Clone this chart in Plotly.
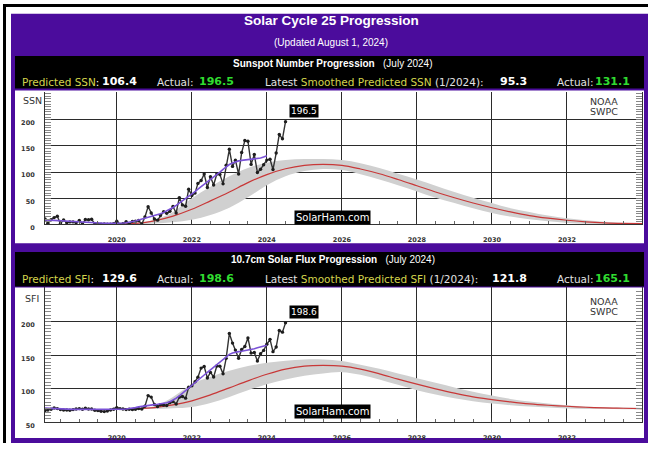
import pandas as pd
import plotly.graph_objects as go

W, H = 648, 450

# ---------------- data ----------------
# monthly values, starting February 2018
ssn_monthly = [10.7, 2.5, 8.9, 13.1, 15.6, 1.6, 8.7, 3.3, 4.9, 4.9, 3.1,
               7.7, 0.8, 9.4, 9.1, 9.9, 1.2, 0.9, 0.5, 1.1, 0.4, 0.5, 1.5,
               6.2, 0.2, 1.5, 5.2, 0.2, 5.8, 6.1, 7.5, 0.6, 14.4, 34.0, 21.8,
               10.4, 8.2, 17.2, 24.5, 21.2, 25.0, 34.3, 22.0, 51.3, 37.4, 34.8, 67.5,
               55.3, 59.9, 78.5, 84.1, 96.5, 70.5, 91.4, 75.4, 96.3, 95.4, 77.6, 113.1,
               143.6, 110.9, 122.8, 96.4, 137.4, 160.5, 159.1, 114.8, 133.6, 99.4, 105.4, 114.2,
               123.0, 124.7, 104.9, 136.5, 172.0, 163.7, 196.5]
ssn_smoothed = [8.8, 8.4, 8.0, 7.6, 7.2, 6.8, 6.4, 6.1, 5.8, 5.5, 5.2,
                4.9, 4.6, 4.3, 4.0, 3.6, 3.2, 2.8, 2.5, 2.2, 2.0, 1.9, 1.8,
                2.0, 2.3, 2.7, 3.2, 4.0, 5.2, 6.7, 8.4, 10.1, 11.7, 13.3, 14.9,
                16.4, 18.2, 20.5, 23.0, 25.8, 28.9, 32.5, 36.5, 40.7, 45.1, 49.6, 54.0,
                58.2, 62.8, 67.4, 71.9, 76.5, 81.0, 85.6, 90.1, 95.1, 100.0, 105.3, 110.2,
                114.5, 117.5, 120.0, 121.5, 122.5, 123.2, 123.8, 124.3, 124.8, 125.5, 127.0, 129.0,
                131.1]
sfi_monthly = [67.5, 68.5, 69.5, 71.5, 70.5, 69.0, 68.5, 68.5, 68.0, 69.0, 70.0,
               70.5, 69.5, 71.0, 70.0, 70.0, 68.0, 67.5, 66.5, 66.0, 67.0, 68.5, 69.5,
               72.0, 70.5, 70.0, 69.0, 69.5, 69.0, 69.5, 70.5, 70.0, 74.0, 89.9, 87.7,
               76.6, 73.5, 76.3, 75.7, 75.2, 79.4, 81.0, 77.4, 87.6, 88.7, 86.1, 102.3,
               104.6, 110.7, 117.5, 131.0, 133.4, 116.3, 124.6, 117.7, 134.2, 133.9, 122.4, 145.6,
               182.8, 168.4, 157.9, 145.6, 158.8, 163.3, 176.1, 153.4, 154.3, 141.5, 152.6, 157.5,
               166.6, 174.0, 155.6, 162.5, 187.3, 184.7, 198.6]
sfi_smoothed = [71.2, 70.9, 70.6, 70.3, 70.0, 69.8, 69.7, 69.6, 69.5, 69.4, 69.3,
                69.3, 69.2, 69.1, 69.0, 68.9, 68.8, 68.7, 68.7, 68.7, 68.8, 68.9, 69.0,
                69.2, 69.4, 69.6, 69.9, 70.3, 71.0, 72.0, 73.1, 74.0, 74.8, 75.5, 76.0,
                76.5, 77.0, 77.6, 78.3, 79.3, 80.8, 83.0, 86.0, 89.5, 93.2, 97.0, 100.8,
                104.5, 108.3, 112.3, 116.6, 120.7, 124.6, 128.4, 132.3, 136.5, 140.8, 145.0, 148.6,
                151.5, 153.6, 154.9, 155.6, 156.3, 157.0, 157.9, 158.9, 160.0, 161.3, 162.7, 163.9,
                165.1]

# NOAA SWPC prediction, half-year points 2020.0 ... 2034.0
pred_dates = ["2020-01-01", "2020-07-01", "2021-01-01", "2021-07-01", "2022-01-01", "2022-07-01",
              "2023-01-01", "2023-07-01", "2024-01-01", "2024-07-01", "2025-01-01", "2025-07-01",
              "2026-01-01", "2026-07-01", "2027-01-01", "2027-07-01", "2028-01-01", "2028-07-01",
              "2029-01-01", "2029-07-01", "2030-01-01", "2030-07-01", "2031-01-01", "2031-07-01",
              "2032-01-01", "2032-07-01", "2033-01-01", "2033-07-01", "2034-01-01"]
ssn_pred = [0.0, 2, 7, 16, 29, 45, 62, 80, 95.3, 106.4, 113, 115, 113, 106, 97, 86, 74, 62,
            51, 41, 32, 24, 17, 12, 8, 5, 3, 2, 1.5]
ssn_hi = [0, 3, 9, 24, 50, 72, 92, 108, 118, 123, 125, 125, 123, 117, 108, 97, 86, 74,
          62, 51, 41, 31, 24, 17, 12, 8, 5, 3, 2]
ssn_lo = [0, 0.5, 2, 4, 9, 18, 32, 52, 75, 92, 102, 106, 104, 96, 86, 75, 63, 51,
          41, 31, 22, 15, 10, 6, 3, 1.5, 0.7, 0.3, 0]
sfi_pred = [70, 70.5, 72, 76, 82, 91, 101.5, 112, 121.8, 129.6, 134, 135, 134, 129.5, 122.5,
            114.5, 107, 100, 93.5, 88, 84, 80.5, 77.5, 75.5, 74, 72.5, 71.5, 71, 70.5]
sfi_hi = [70, 71, 74, 88, 107, 118, 127, 134, 139, 142, 144, 144, 141.6, 136, 130, 123,
          116, 109, 102, 95.5, 90, 85, 81, 78, 75.4, 73.5, 72.5, 72, 71.5]
sfi_lo = [70, 70, 70, 71, 73, 79, 88, 98, 107, 114, 119.5, 123, 125, 121, 114, 106,
          98, 91.5, 86, 81.5, 78, 75.5, 73.5, 72, 70.6, 70, 69.8, 69.6, 69.5]

ssn_ticks = [0, 50, 100, 150, 200]
sfi_ticks = [50, 100, 150, 200]

obs_dates = pd.date_range("2018-02-01", periods=len(ssn_monthly), freq="MS")
sm_dates = pd.date_range("2018-02-01", periods=len(ssn_smoothed), freq="MS")

# ---------------- style ----------------
PURPLE = "#4b0c9c"
YELLOW = "#d4d44c"
GREEN = "#30dc30"
GRID = "#2b2b2b"
BAND = "rgb(208,208,208)"
RED = "#c83838"
SMOOTH = "#7a52d6"
DATA = "#333333"


def px(x):
    return x / W


def py(y):
    return 1 - y / H


fig = go.Figure()


def add_panel(xa, ya, obs, sm, pred, hi, lo):
    fig.add_trace(go.Scatter(x=pred_dates, y=lo, xaxis=xa, yaxis=ya, mode="lines",
                             line=dict(width=0, shape="spline", color=BAND), hoverinfo="skip"))
    fig.add_trace(go.Scatter(x=pred_dates, y=hi, xaxis=xa, yaxis=ya, mode="lines",
                             line=dict(width=0, shape="spline", color=BAND), fill="tonexty",
                             fillcolor=BAND, hoverinfo="skip"))
    fig.add_trace(go.Scatter(x=pred_dates, y=pred, xaxis=xa, yaxis=ya, mode="lines",
                             line=dict(width=1.2, shape="spline", color=RED)))
    fig.add_trace(go.Scatter(x=obs_dates, y=obs, xaxis=xa, yaxis=ya, mode="lines+markers",
                             line=dict(width=1.4, color=DATA),
                             marker=dict(size=3.4, color="#1e1e1e", symbol="circle")))
    fig.add_trace(go.Scatter(x=sm_dates, y=sm, xaxis=xa, yaxis=ya, mode="lines",
                             line=dict(width=1.6, color=SMOOTH)))


add_panel("x", "y", ssn_monthly, ssn_smoothed, ssn_pred, ssn_hi, ssn_lo)
add_panel("x2", "y2", sfi_monthly, sfi_smoothed, sfi_pred, sfi_hi, sfi_lo)

xcommon = dict(type="date", range=["2018-02-01", "2034-01-01"], domain=[px(45), px(642)],
               showgrid=True, gridcolor=GRID, gridwidth=1, dtick="M24", tick0="2020-01-01",
               tickformat="%Y", ticks="inside", ticklen=4, tickcolor="#333",
               showline=True, linecolor="#333", linewidth=1, zeroline=False,
               tickfont=dict(family="DejaVu Sans", size=6.5, color="#333", weight="bold"),
               ticklabelstandoff=9,
               minor=dict(dtick="M6", ticks="inside", ticklen=3, tickcolor="#666", showgrid=False))
ycommon = dict(showgrid=True, gridcolor=GRID, gridwidth=1, ticks="inside", ticklen=6,
               tickcolor="#777", showline=True, linecolor="#333", linewidth=1,
               mirror="allticks", zeroline=False, ticklabelshift=3, ticklabelstandoff=8,
               tickfont=dict(family="DejaVu Sans", size=6.5, color="#333", weight="bold"),
               minor=dict(dtick=5, ticks="inside", ticklen=6, tickcolor="#888", showgrid=False))

fig.update_layout(
    width=W, height=H, margin=dict(l=0, r=0, t=0, b=0),
    paper_bgcolor="white", plot_bgcolor="rgba(0,0,0,0)", showlegend=False,
    xaxis=dict(xcommon, anchor="y"),
    yaxis=dict(ycommon, domain=[py(228), py(93)], range=[0, 254], tickvals=ssn_ticks, anchor="x"),
    xaxis2=dict(xcommon, anchor="y2"),
    yaxis2=dict(ycommon, domain=[py(429), py(292)], range=[50, 251.5], tickvals=sfi_ticks,
                anchor="x2"),
)


def rect(x0, y0, x1, y1, color):
    return dict(type="rect", xref="paper", yref="paper", x0=px(x0), x1=px(x1),
                y0=py(y1), y1=py(y0), fillcolor=color, line_width=0, layer="below")


fig.update_layout(shapes=[
    rect(3, 4, 6, 450, "black"),
    rect(3, 4, 648, 7, "black"),
    rect(11, 14, 648, 450, PURPLE),
    rect(15, 57, 644, 90, "black"),
    rect(15, 92, 644, 247, "white"),
    rect(15, 256, 644, 291, "black"),
    rect(15, 292, 644, 445, "white"),
])

ann = []


def text(x, y, s, size=10, color="white", family="Liberation Sans", xanchor="center", **kw):
    ann.append(dict(x=px(x), y=py(y), xref="paper", yref="paper", text=s, showarrow=False,
                    xanchor=xanchor, yanchor="middle",
                    font=dict(family=family, size=size, color=color), **kw))


text(331, 21, "<b>Solar Cycle 25 Progression</b>", size=13.5)
text(331, 43, "(Updated August 1, 2024)", size=10)


def band_text(y0, title, name, pred, actual, spred, sactual):
    text(333, y0 + 8, "<b>" + title + "</b>&nbsp;&nbsp;&nbsp;(July 2024)", size=10)
    ly = y0 + 27
    dv = "DejaVu Sans"
    text(20, ly, f"<span style='color:{YELLOW}'>Predicted {name}</span>:", size=10.5,
         family=dv, xanchor="left")
    text(100, ly, f"<b>{pred}</b>", size=11, family=dv, xanchor="left")
    text(155, ly, "Actual:", size=10.5, color="#e2e2e2", family=dv, xanchor="left")
    text(197, ly, f"<b>{actual}</b>", size=11, color=GREEN, family=dv, xanchor="left")
    text(263, ly, f"Latest <span style='color:{YELLOW}'>Smoothed Predicted {name}</span> (1/2024):",
         size=10.5, color="#e2e2e2", family=dv, xanchor="left")
    text(529, ly, f"<b>{spred}</b>", size=11, family=dv, xanchor="right")
    text(555, ly, "Actual:", size=10.5, color="#e2e2e2", family=dv, xanchor="left")
    text(593, ly, f"<b>{sactual}</b>", size=11, color=GREEN, family=dv, xanchor="left")


band_text(56, "Sunspot Number Progression", "SSN", "106.4", "196.5", "95.3", "131.1")
band_text(256, "10.7cm Solar Flux Progression", "SFI", "129.6", "198.6", "121.8", "165.1")

for (y1, y2, lab, ly, wy) in [(103, 113, "SSN", 102, 221), (306, 316, "SFI", 303, 418)]:
    text(604, y1, "NOAA", size=9.5, color="#333", family="DejaVu Sans")
    text(604, y2, "SWPC", size=9.5, color="#333", family="DejaVu Sans")
    text(32, ly, lab, size=9.5, color="#333", family="DejaVu Sans")
    text(333, wy, "SolarHam.com", size=10, color="white", family="DejaVu Sans",
         bgcolor="black", borderpad=1)

for xa, ya, vals in [("x", "y", ssn_monthly), ("x2", "y2", sfi_monthly)]:
    ann.append(dict(x=obs_dates[-1], y=vals[-1], xref=xa, yref=ya, text=f"{vals[-1]}",
                    showarrow=False, xanchor="left", yanchor="bottom", xshift=3, yshift=4,
                    bgcolor="black", borderpad=1,
                    font=dict(family="DejaVu Sans", size=9, color="white")))

fig.update_layout(annotations=ann)
fig.write_html("out.html", config={"displayModeBar": False},
               post_script="document.body.style.margin='0';")
